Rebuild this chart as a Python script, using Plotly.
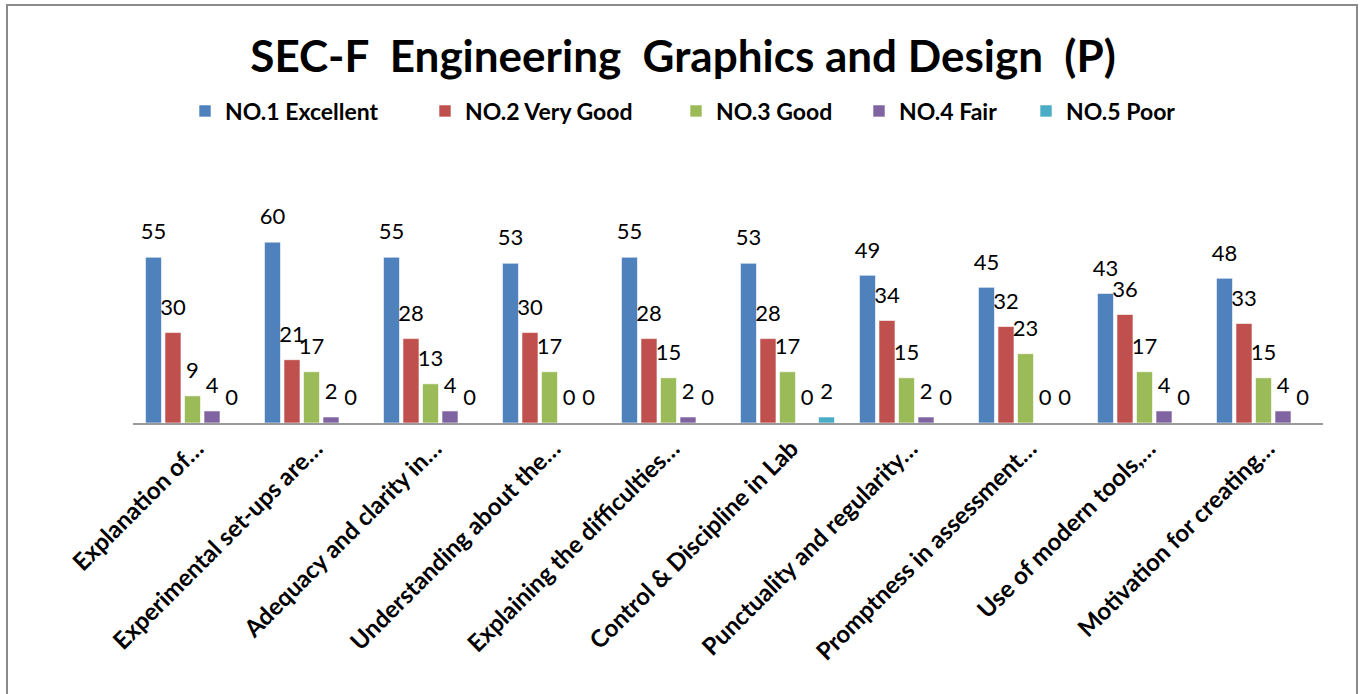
import plotly.graph_objects as go

categories = [
    "Explanation of…",
    "Experimental set-ups are…",
    "Adequacy and clarity in…",
    "Understanding about the…",
    "Explaining the difficulties…",
    "Control & Discipline in Lab",
    "Punctuality and regularity…",
    "Promptness in assessment…",
    "Use of modern tools,…",
    "Motivation for creating…",
]
series_names = ["NO.1 Excellent", "NO.2 Very Good", "NO.3 Good", "NO.4 Fair", "NO.5 Poor"]
excellent = [55, 60, 55, 53, 55, 53, 49, 45, 43, 48]
very_good = [30, 21, 28, 30, 28, 28, 34, 32, 36, 33]
good = [9, 17, 13, 17, 15, 17, 15, 23, 17, 15]
fair = [4, 2, 4, 0, 2, 0, 2, 0, 4, 4]
poor = [0, 0, 0, 0, 0, 2, 0, 0, 0, 0]
colors = ["#4F81BD", "#C0504D", "#9BBB59", "#8064A2", "#4BACC6"]

FONT = "Lato, 'Open Sans', sans-serif"
W, H = 1365, 694
l, r, t, b = 133, 42, 212, 271

# legend text start positions (px) for each series
legend_text_x = [227, 467, 718, 901, 1068]
legend_names = ["legend", "legend2", "legend3", "legend4", "legend5"]

fig = go.Figure()
all_vals = [excellent, very_good, good, fair, poor]
for i, (name, vals, col) in enumerate(zip(series_names, all_vals, colors)):
    fig.add_trace(go.Bar(
        x=categories, y=vals, name="<b>" + name + "</b>",
        marker=dict(color=col, line=dict(color="white", width=0.6)),
        legend=legend_names[i], offsetgroup=str(i),
    ))
for i, vals in enumerate(all_vals):
    fig.add_trace(go.Scatter(
        x=categories, y=vals, mode="markers+text",
        text=[str(v) for v in vals], textposition="top center",
        textfont=dict(family=FONT, size=22, color="black"),
        marker=dict(size=18, color="rgba(0,0,0,0)"),
        showlegend=False, cliponaxis=False, hoverinfo="skip",
        offsetgroup=str(i),
    ))

layout_legends = {}
for i, ln in enumerate(legend_names):
    layout_legends[ln] = dict(
        orientation="h", xref="container", yref="container",
        x=(legend_text_x[i] - 42) / W, xanchor="left",
        y=1 - 111 / H, yanchor="middle",
        font=dict(family=FONT, size=23, color="black"),
        bgcolor="rgba(0,0,0,0)",
    )

fig.update_layout(
    width=W, height=H,
    margin=dict(l=l, r=r, t=t, b=b),
    paper_bgcolor="white", plot_bgcolor="white",
    barmode="group", bargap=0.18, bargroupgap=0.18,
    scattermode="group", scattergap=0.18,
    title=dict(text="<b>SEC-F  Engineering  Graphics and Design  (P)</b>",
               x=683 / W, xanchor="center", y=1 - 57 / H, yanchor="middle",
               font=dict(family=FONT, size=44, color="black")),
    showlegend=True,
    **layout_legends,
)
fig.update_xaxes(showline=True, linecolor="#9a9a9a", linewidth=2, ticks="",
                 tickangle=-45, ticklabelshift=4,
                 tickfont=dict(family=FONT, size=24, color="black", weight="bold"),
                 showgrid=False)
fig.update_yaxes(range=[0, 70], visible=False, showgrid=False)

pw = W - l - r
ph = H - t - b
fig.add_shape(type="rect", xref="paper", yref="paper",
              x0=(7 - l) / pw, x1=(1357 - l) / pw,
              y0=(H - b - 720) / ph, y1=(H - b - 5) / ph,
              line=dict(color="#8a8a8a", width=2), fillcolor="rgba(0,0,0,0)", layer="below")

fig.write_html("out.html", config={"displayModeBar": False},
               post_script="document.body.style.margin='0';")
